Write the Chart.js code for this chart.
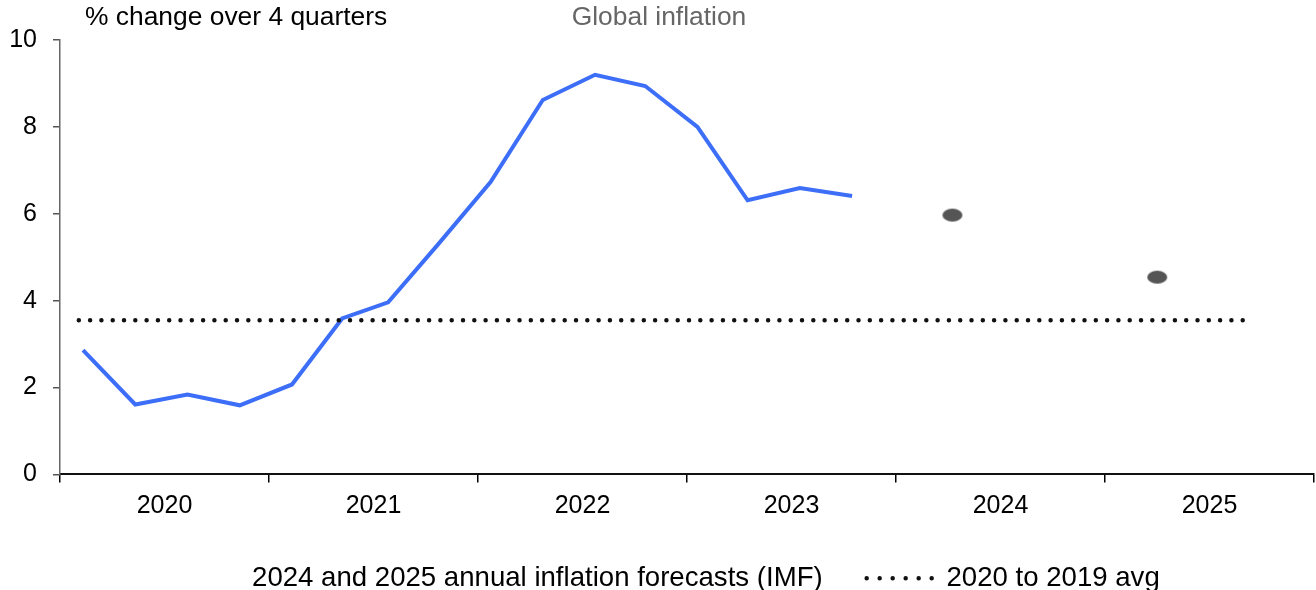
<!DOCTYPE html>
<html>
<head>
<meta charset="utf-8">
<script src="https://cdn.jsdelivr.net/npm/chart.js@4.4.1/dist/chart.umd.min.js"></script>
<style>
  html, body { margin: 0; padding: 0; background: #fff; }
  #wrap { width: 1316px; height: 590px; position: relative; }
</style>
</head>
<body>
<div id="wrap"><canvas id="chart"></canvas></div>
<script>
// Quarterly global inflation (% change over 4 quarters), x as fractional year
const quarterX = [2020.11, 2020.36, 2020.61, 2020.86, 2021.11, 2021.35, 2021.57, 2021.81,
                  2022.06, 2022.31, 2022.56, 2022.80, 2023.05, 2023.29, 2023.54, 2023.79];
const inflation = [2.86, 1.61, 1.84, 1.59, 2.07, 3.59, 3.96, 5.3,
                   6.73, 8.62, 9.2, 8.94, 8.0, 6.31, 6.59, 6.41];

// IMF annual forecasts
const forecastX = [2024.27, 2025.25];
const forecastValues = [5.97, 4.54];

// pre-pandemic average line
const avgX = [2020.09, 2025.71];
const avgValue = 3.55;

const yearTicks = [2020, 2021, 2022, 2023, 2024, 2025, 2026];
const FONT = "'Liberation Sans', Arial, sans-serif";

// grey elliptical marker for the forecast dots
const dotImg = document.createElement('canvas');
dotImg.width = 22;
dotImg.height = 15;
(() => {
    const c = dotImg.getContext('2d');
    c.fillStyle = '#555555';
    c.beginPath();
    c.ellipse(11, 7.5, 10, 6.5, 0, 0, Math.PI * 2);
    c.fill();
})();

const headerText = {
    id: 'headerText',
    afterLayout(chart) {
        // legend sits a little right of centre in the original
        chart.legend.left += 9;
        chart.legend.right += 9;
    },
    afterDraw(chart) {
        const ctx = chart.ctx;
        ctx.save();
        ctx.font = '26.4px ' + FONT;
        ctx.textBaseline = 'middle';
        ctx.fillStyle = '#000';
        ctx.textAlign = 'left';
        ctx.fillText('% change over 4 quarters', 85, 18);
        ctx.fillStyle = '#666';
        ctx.textAlign = 'center';
        ctx.fillText('Global inflation', 659, 18);
        ctx.restore();
    }
};

new Chart(document.getElementById('chart'), {
    type: 'line',
    data: {
        datasets: [
            {
                label: '2024 and 2025 annual inflation forecasts (IMF)',
                data: forecastX.map((x, i) => ({ x, y: forecastValues[i] })),
                showLine: false,
                pointStyle: dotImg,
                pointRadius: 8,
                borderColor: 'rgba(0,0,0,0)',
                backgroundColor: 'rgba(0,0,0,0)'
            },
            {
                label: '2020 to 2019 avg',
                data: avgX.map(x => ({ x, y: avgValue })),
                borderColor: '#111',
                borderWidth: 4.5,
                borderDash: [0, 11.3],
                borderCapStyle: 'round',
                pointRadius: 0,
                pointStyle: 'line'
            },
            {
                label: 'Global inflation',
                data: quarterX.map((x, i) => ({ x, y: inflation[i] })),
                borderColor: '#3d6ef7',
                borderWidth: 4,
                pointRadius: 0,
                tension: 0
            }
        ]
    },
    options: {
        responsive: true,
        maintainAspectRatio: false,
        animation: false,
        layout: { autoPadding: false, padding: { top: 40, right: 2, left: 0, bottom: -12 } },
        plugins: {
            tooltip: { enabled: false },
            legend: {
                position: 'bottom',
                labels: {
                    font: { size: 27.6, family: FONT },
                    color: '#000',
                    usePointStyle: true,
                    pointStyleWidth: 66,
                    boxHeight: 10,
                    padding: 44,
                    filter: item => item.datasetIndex !== 2,
                    generateLabels(chart) {
                        const items = Chart.defaults.plugins.legend.labels.generateLabels(chart);
                        items.forEach(it => {
                            if (it.datasetIndex === 0) {
                                it.pointStyle = 'line';
                                it.strokeStyle = 'rgba(0,0,0,0)';
                                it.fillStyle = 'rgba(0,0,0,0)';
                            } else if (it.datasetIndex === 1) {
                                it.pointStyle = 'line';
                                it.lineWidth = 4.5;
                                it.lineDash = [0, 13];
                                it.lineCap = 'round';
                            }
                        });
                        return items;
                    }
                }
            }
        },
        scales: {
            x: {
                type: 'linear',
                min: 2020,
                max: 2026,
                afterBuildTicks(scale) {
                    const t = [];
                    yearTicks.forEach((y, i) => {
                        t.push({ value: y });
                        if (i < yearTicks.length - 1) t.push({ value: y + 0.5 });
                    });
                    scale.ticks = t;
                },
                afterFit(scale) {
                    scale.paddingLeft = 0;
                    scale.paddingRight = 0;
                    scale.height = 46;
                },
                ticks: {
                    autoSkip: false,
                    maxRotation: 0,
                    color: '#000',
                    font: { size: 25, family: FONT },
                    padding: 9,
                    callback: v => (v % 1 !== 0 ? String(Math.floor(v)) : '')
                },
                grid: {
                    drawOnChartArea: false,
                    tickLength: 8,
                    lineWidth: 1.5,
                    color: c => (c.tick && c.tick.value % 1 === 0 ? '#000' : 'rgba(0,0,0,0)')
                },
                border: { display: true, color: '#111', width: 2 }
            },
            y: {
                min: 0,
                max: 10,
                afterFit(scale) {
                    scale.width = 60;
                },
                ticks: {
                    stepSize: 2,
                    color: '#000',
                    font: { size: 25, family: FONT },
                    padding: 16
                },
                grid: {
                    drawOnChartArea: false,
                    tickLength: 7,
                    color: '#555',
                    lineWidth: 1.5
                },
                border: { display: true, color: '#666', width: 1.5 }
            }
        }
    },
    plugins: [headerText]
});
</script>
</body>
</html>
